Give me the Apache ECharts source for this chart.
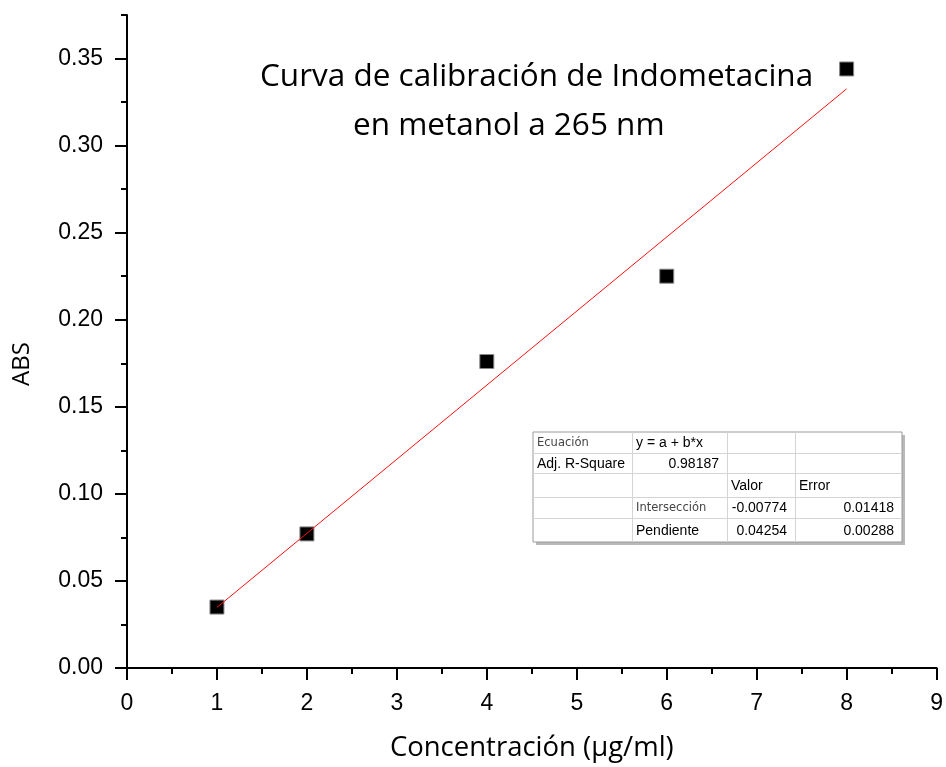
<!DOCTYPE html>
<html>
<head>
<meta charset="utf-8">
<script src="https://cdn.jsdelivr.net/npm/echarts@6/dist/echarts.min.js"></script>
<style>
  html, body { margin: 0; padding: 0; background: #fff; }
  #chart { width: 946px; height: 767px; }
</style>
</head>
<body>
<div id="chart"></div>
<script>
  // datos
  const conc = [1, 2, 4, 6, 8];
  const abs = [0.035, 0.077, 0.176, 0.225, 0.344];
  // recta de ajuste (extremos)
  const fitX = [1, 8];
  const fitY = [0.0348, 0.3326];
  const yMajor = [0, 0.05, 0.10, 0.15, 0.20, 0.25, 0.30, 0.35];

  // tabla de resultados del ajuste
  const tableRows = [
    ['Ecuación', 'y = a + b*x', '', ''],
    ['Adj. R-Square', '0.98187', '', ''],
    ['', '', 'Valor', 'Error'],
    ['', 'Intersección', '-0.00774', '0.01418'],
    ['', 'Pendiente', '0.04254', '0.00288']
  ];

  const chart = echarts.init(document.getElementById('chart'));

  // construir la tabla con graphic
  const tX = [533, 632, 727, 795, 902];
  const tY = [432, 453, 473, 497, 518, 542];
  const light = { 'Ecuación': 1, 'Intersección': 1 };
  const rightAlign = { '0.98187': 1, '-0.00774': 1, '0.01418': 1, '0.04254': 1, '0.00288': 1 };
  const tableEls = [];
  tableEls.push({
    type: 'rect', shape: { x: tX[0] + 3, y: tY[0] + 3, width: tX[4] - tX[0], height: tY[5] - tY[0] },
    style: { fill: '#b8b8b8' }
  });
  tableEls.push({
    type: 'rect', shape: { x: tX[0], y: tY[0], width: tX[4] - tX[0], height: tY[5] - tY[0] },
    style: { fill: '#fff', stroke: '#9a9a9a', lineWidth: 1 }
  });
  for (let i = 1; i < 5; i++) {
    tableEls.push({ type: 'line', shape: { x1: tX[0], y1: tY[i] + 0.5, x2: tX[4], y2: tY[i] + 0.5 }, style: { stroke: '#d4d4d4', lineWidth: 1 } });
  }
  for (let j = 1; j < 4; j++) {
    tableEls.push({ type: 'line', shape: { x1: tX[j] + 0.5, y1: tY[0], x2: tX[j] + 0.5, y2: tY[5] }, style: { stroke: '#d4d4d4', lineWidth: 1 } });
  }
  tableRows.forEach((row, i) => {
    row.forEach((txt, j) => {
      if (!txt) return;
      const isRight = rightAlign[txt];
      const isLight = light[txt];
      tableEls.push({
        type: 'text',
        style: {
          text: txt,
          x: isRight ? tX[j + 1] - 8 : tX[j] + 4,
          y: (tY[i] + tY[i + 1]) / 2 + 1,
          align: isRight ? 'right' : 'left',
          verticalAlign: 'middle',
          fontFamily: isLight ? 'DejaVu Sans' : 'Liberation Sans',
          fontSize: isLight ? 11.5 : 14,
          fill: isLight ? '#444' : '#000'
        },
        z: 10
      });
    });
  });

  // titulo del eje Y
  tableEls.push({
    type: 'text', x: 22, y: 364, rotation: Math.PI / 2,
    style: {
      text: 'ABS', align: 'center', verticalAlign: 'middle',
      fontFamily: 'Open Sans', fontSize: 24, fill: '#000'
    }
  });

  const axisFont = { fontFamily: 'Liberation Sans', fontSize: 23, color: '#000' };

  const option = {
    animation: false,
    backgroundColor: '#fff',
    title: [
      {
        text: 'Curva de calibración de Indometacina',
        left: 255, top: 56,
        textStyle: { fontFamily: 'Open Sans', fontSize: 31.5, fontWeight: 'normal', color: '#000' }
      },
      {
        text: 'en metanol a 265 nm',
        left: 348, top: 105,
        textStyle: { fontFamily: 'Open Sans', fontSize: 31.5, fontWeight: 'normal', color: '#000' }
      }
    ],
    grid: { left: 127, right: 9, top: 15, bottom: 99, containLabel: false },
    xAxis: [
      {
        type: 'value', min: 0, max: 9, interval: 1,
        name: 'Concentración (µg/ml)', nameLocation: 'middle', nameGap: 66,
        nameTextStyle: { fontFamily: 'Open Sans', fontSize: 27.5, color: '#000' },
        axisLine: { show: true, onZero: false, lineStyle: { color: '#000', width: 2 } },
        axisTick: { show: true, length: 12, lineStyle: { color: '#000', width: 2 } },
        minorTick: { show: true, splitNumber: 2, length: 6, lineStyle: { color: '#000', width: 2 } },
        axisLabel: Object.assign({ margin: 24 }, axisFont),
        splitLine: { show: false }
      }
    ],
    yAxis: [
      {
        type: 'value', min: 0, max: 0.375, interval: 0.025,
        axisLine: { show: true, onZero: false, lineStyle: { color: '#000', width: 2 } },
        axisTick: { show: true, length: 6, lineStyle: { color: '#000', width: 2 } },
        axisLabel: { show: false },
        splitLine: { show: false }
      },
      {
        type: 'value', min: 0, max: 0.375, interval: 0.05, position: 'left',
        axisLine: { show: false },
        axisTick: { show: true, length: 12, customValues: yMajor, lineStyle: { color: '#000', width: 2 } },
        axisLabel: Object.assign({
          margin: 24, customValues: yMajor,
          formatter: (v) => v.toFixed(2)
        }, axisFont),
        splitLine: { show: false }
      }
    ],
    series: [
      {
        type: 'scatter',
        data: conc.map((x, i) => [x, abs[i]]),
        symbol: 'rect', symbolSize: 14,
        itemStyle: { color: '#000', borderColor: '#888', borderWidth: 1, opacity: 1 },
        z: 2
      },
      {
        type: 'line',
        data: fitX.map((x, i) => [x, fitY[i]]),
        showSymbol: false, symbol: 'none',
        lineStyle: { color: '#ff1010', width: 1 },
        z: 3
      }
    ],
    graphic: tableEls
  };

  chart.setOption(option);
</script>
</body>
</html>
